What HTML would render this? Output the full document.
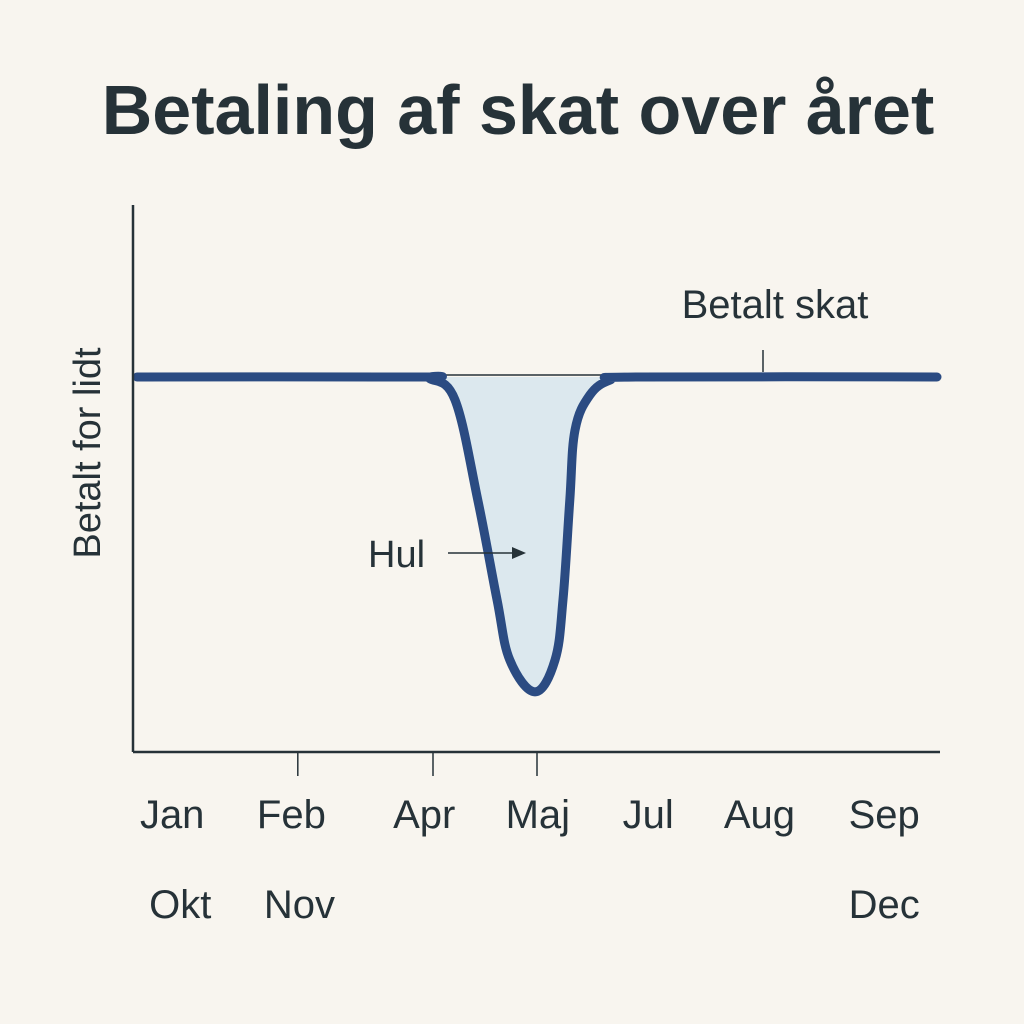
<!DOCTYPE html>
<html><head><meta charset="utf-8"><style>
body{margin:0;background:#f8f5ef;}
svg{display:block;font-family:"Liberation Sans",sans-serif;}
</style></head><body>
<svg id="chart" width="1024" height="1024" viewBox="0 0 1024 1024">
<rect width="1024" height="1024" fill="#f8f5ef"/>
<text x="518" y="134" text-anchor="middle" font-size="70" font-weight="bold" fill="#263238">Betaling af skat over året</text>
<text transform="translate(100,453) rotate(-90)" text-anchor="middle" font-size="38" fill="#263238">Betalt for lidt</text>
<g id="marks"></g>
<line x1="133" y1="205" x2="133" y2="752" stroke="#263238" stroke-width="2.5"/>
<line x1="133" y1="752" x2="940" y2="752" stroke="#263238" stroke-width="2.5"/>
<g id="ticks"></g>
<line x1="763" y1="350" x2="763" y2="372" stroke="#263238" stroke-width="1.5"/>
<text x="775" y="318" text-anchor="middle" font-size="40" fill="#263238">Betalt skat</text>
<text x="368" y="567" font-size="38" fill="#263238">Hul</text>
<line x1="448" y1="553" x2="512" y2="553" stroke="#263238" stroke-width="1.5"/>
<polygon points="526,553 512,547 512,559" fill="#263238"/>
</svg>
<script>
// curve points: position along year (0..1) and shortfall depth (0 = paid fully, 1 = max hole)
const positions=[0,0.35,0.366,0.3975,0.426,0.45,0.466,0.4975,0.5225,0.5325,0.541,0.5475,0.566,0.591,0.625,1];
const depths=[0,0,0.005,0.072,0.387,0.70,0.89,0.99,0.89,0.70,0.387,0.167,0.057,0.01,0,0];
const xLabelsRow1=["Jan","Feb","Apr","Maj","Jul","Aug","Sep"];
const xLabelsRow1Pos=[0.044,0.193,0.359,0.501,0.639,0.778,0.934];
const xLabelsRow2=["Okt","Nov","Dec"];
const xLabelsRow2Pos=[0.054,0.203,0.934];
const tickPos=[0.201,0.370,0.500];
const X=t=>137+t*800, Y=v=>377+v*318;
const NS="http://www.w3.org/2000/svg";
const pts=positions.map((t,i)=>[X(t),Y(depths[i])]);
function smooth(p){let d=`M${p[0][0]},${p[0][1]}`;for(let i=0;i<p.length-1;i++){const a=p[Math.max(0,i-1)],b=p[i],c=p[i+1],e=p[Math.min(p.length-1,i+2)];
const s=0.18;
d+=` C${b[0]+(c[0]-a[0])*s},${b[1]+(c[1]-a[1])*s} ${c[0]-(e[0]-b[0])*s},${c[1]-(e[1]-b[1])*s} ${c[0]},${c[1]}`;}return d;}
const g=document.getElementById('marks');
const lineD=smooth(pts);
const fill=document.createElementNS(NS,'path');
fill.setAttribute('d',lineD+` L${X(1)},${Y(0)} L${X(0)},${Y(0)} Z`);
fill.setAttribute('fill','#dce8ee');


g.appendChild(fill);
const base=document.createElementNS(NS,'line');
base.setAttribute('x1',X(0.385));base.setAttribute('x2',X(0.585));base.setAttribute('y1',Y(0)-2);base.setAttribute('y2',Y(0)-2);
base.setAttribute('stroke','#263238');base.setAttribute('stroke-width','1.5');


g.appendChild(base);
const line=document.createElementNS(NS,'path');
line.setAttribute('d',lineD);line.setAttribute('fill','none');line.setAttribute('stroke','#2b4b82');
line.setAttribute('stroke-width','9');line.setAttribute('stroke-linecap','round');line.setAttribute('stroke-linejoin','round');


g.appendChild(line);
const tg=document.getElementById('ticks');
tickPos.forEach(t=>{const l=document.createElementNS(NS,'line');
l.setAttribute('x1',X(t));l.setAttribute('x2',X(t));l.setAttribute('y1',752);l.setAttribute('y2',776);
l.setAttribute('stroke','#263238');l.setAttribute('stroke-width','1.5');


tg.appendChild(l);});
function labels(arr,pos,y){arr.forEach((s,i)=>{const t=document.createElementNS(NS,'text');
t.setAttribute('x',X(pos[i]));t.setAttribute('y',y);t.setAttribute('text-anchor','middle');
t.setAttribute('font-size','40');t.setAttribute('fill','#263238');t.textContent=s;


tg.appendChild(t);});}
labels(xLabelsRow1,xLabelsRow1Pos,828);
labels(xLabelsRow2,xLabelsRow2Pos,918);
</script>
</body></html>
